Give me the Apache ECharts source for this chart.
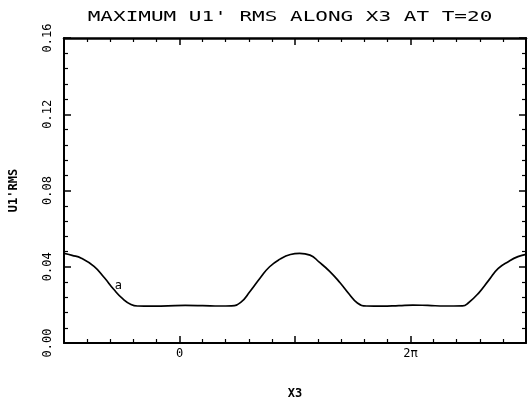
<!DOCTYPE html>
<html>
<head>
<meta charset="utf-8">
<script src="https://cdn.jsdelivr.net/npm/echarts@6/dist/echarts.min.js"></script>
<style>
  html, body { margin: 0; padding: 0; background: #fff; }
  #chart { width: 529px; height: 405px; }
</style>
</head>
<body>
<div id="chart"></div>
<script>
// Spanwise position X3, expressed in multiples of pi
const x3InPi = [
  -1.00, -0.93, -0.85, -0.74, -0.65, -0.57, -0.49, -0.42, -0.36, -0.25,
  -0.10, 0.05, 0.20, 0.35, 0.45, 0.53, 0.61, 0.70, 0.78, 0.87,
  0.96, 1.04, 1.13, 1.21, 1.30, 1.39, 1.47, 1.54, 1.62, 1.75,
  1.90, 2.02, 2.15, 2.30, 2.45, 2.50, 2.59, 2.68, 2.76, 2.85,
  2.93, 3.00
];
// Maximum U1' rms at T=20
const u1Rms = [
  0.0470, 0.0460, 0.0445, 0.0402, 0.0342, 0.0282, 0.0231, 0.0202, 0.0194, 0.0193,
  0.0195, 0.0197, 0.0196, 0.0194, 0.0195, 0.0213, 0.0270, 0.0342, 0.0400, 0.0440,
  0.0464, 0.0470, 0.0461, 0.0424, 0.0376, 0.0316, 0.0256, 0.0210, 0.0194, 0.0193,
  0.0196, 0.0199, 0.0197, 0.0194, 0.0195, 0.0210, 0.0262, 0.0331, 0.0391, 0.0428,
  0.0453, 0.0465
];
// Tick labels on the X3 axis (keyed by multiple of pi)
const xTickValues = [0, 2];
const xTickLabels = ['0', '2\u03C0'];
// Curve tag and where it sits (X3 / pi, value)
const curveTag = 'a';
const curveTagAt = [-0.53, 0.0300];

const titleText = "MAXIMUM U1' RMS ALONG X3 AT T=20";
const FONT = '"DejaVu Sans Mono", "Liberation Mono", monospace';

const lineData = x3InPi.map((x, i) => [x, u1Rms[i]]);

const chart = echarts.init(document.getElementById('chart'), null, { renderer: 'canvas' });

const tickCommon = {
  show: true, inside: true, length: 7,
  lineStyle: { color: '#000', width: 1.5 }
};
const minorCommon = {
  show: true, splitNumber: 5, length: 4,
  lineStyle: { color: '#000', width: 1.2 }
};

chart.setOption({
  animation: false,
  backgroundColor: '#fff',
  grid: { left: 63, right: 2, top: 38, bottom: 55, containLabel: false },
  graphic: [{
    type: 'text',
    x: 290, y: 17,
    scaleX: 1.5,
    style: {
      text: titleText,
      fill: '#000',
      font: '14px ' + FONT,
      textAlign: 'center',
      textVerticalAlign: 'middle'
    }
  }],
  xAxis: [{
    type: 'value',
    position: 'bottom',
    min: -1, max: 3, interval: 1,
    name: 'X3',
    nameLocation: 'middle',
    nameGap: 45,
    nameTextStyle: { color: '#000', fontFamily: FONT, fontSize: 12, fontWeight: 'bold' },
    axisLine: { show: true, onZero: false, lineStyle: { color: '#000', width: 2 } },
    axisTick: tickCommon,
    minorTick: minorCommon,
    splitLine: { show: false },
    axisLabel: {
      show: true, margin: 5, color: '#000', fontFamily: FONT, fontSize: 12,
      formatter: v => {
        const k = xTickValues.findIndex(t => Math.abs(t - v) < 1e-9);
        return k >= 0 ? xTickLabels[k] : '';
      }
    }
  }, {
    type: 'value',
    position: 'top',
    min: -1, max: 3, interval: 1,
    axisLine: { show: true, onZero: false, lineStyle: { color: '#000', width: 2.5 } },
    axisTick: tickCommon,
    minorTick: minorCommon,
    splitLine: { show: false },
    axisLabel: { show: false }
  }],
  yAxis: [{
    type: 'value',
    position: 'left',
    min: 0, max: 0.16, interval: 0.04,
    name: "U1'RMS",
    nameLocation: 'middle',
    nameRotate: 90,
    nameGap: 44,
    nameTextStyle: { color: '#000', fontFamily: FONT, fontSize: 12, fontWeight: 'bold' },
    axisLine: { show: true, onZero: false, lineStyle: { color: '#000', width: 2 } },
    axisTick: tickCommon,
    minorTick: minorCommon,
    splitLine: { show: false },
    axisLabel: {
      show: true, rotate: 90, margin: 10, color: '#000', fontFamily: FONT, fontSize: 12,
      formatter: v => v.toFixed(2)
    }
  }, {
    type: 'value',
    position: 'right',
    min: 0, max: 0.16, interval: 0.04,
    axisLine: { show: true, onZero: false, lineStyle: { color: '#000', width: 2 } },
    axisTick: tickCommon,
    minorTick: minorCommon,
    splitLine: { show: false },
    axisLabel: { show: false }
  }],
  series: [{
    type: 'line',
    xAxisIndex: 0,
    yAxisIndex: 0,
    data: lineData,
    smooth: 0.5,
    showSymbol: false,
    lineStyle: { color: '#000', width: 1.7 },
    markPoint: {
      symbol: 'circle',
      symbolSize: 1,
      itemStyle: { color: 'rgba(0,0,0,0)' },
      label: {
        show: true, position: 'inside', color: '#000',
        fontFamily: FONT, fontSize: 12, formatter: curveTag
      },
      data: [{ coord: curveTagAt }]
    }
  }]
});
</script>
</body>
</html>
